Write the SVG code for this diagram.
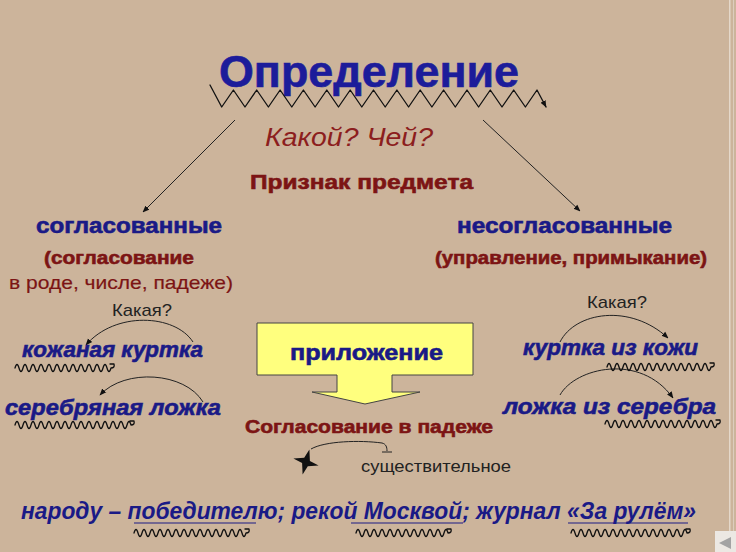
<svg xmlns="http://www.w3.org/2000/svg" width="736" height="552" viewBox="0 0 736 552">
<defs>
<style>
.t{font-family:"Liberation Sans",Arial,sans-serif}
.navy{fill:#1a1a86;stroke:#1a1a86}
.red{fill:#7c1414;stroke:#7c1414}
.b{font-weight:bold;stroke-width:0.6}
.r{stroke-width:0.2}
.i{font-style:italic}
.blk{fill:#222}
.ln{fill:none;stroke:#222;stroke-width:1}
.wv{fill:none;stroke:#111;stroke-width:1.3;stroke-linejoin:round;stroke-linecap:round}
.ul{stroke:#1a1a86;stroke-width:1.2}
</style>
<marker id="ah" viewBox="0 0 10 10" refX="9" refY="5" markerWidth="7" markerHeight="7" orient="auto" markerUnits="userSpaceOnUse">
<path d="M0,1 L10,5 L0,9 Z" fill="#111"/>
</marker>
</defs>
<rect x="0" y="0" width="736" height="552" fill="#ccb49b"/>
<rect x="729" y="0" width="1.5" height="552" fill="#e4d8ca"/>
<rect x="733" y="0" width="1" height="552" fill="#dccebe"/>

<g id="connectors">
<line class="ln" x1="235" y1="120" x2="143" y2="212" marker-end="url(#ah)"/>
<line class="ln" x1="483" y1="120" x2="580" y2="211" marker-end="url(#ah)"/>
<path class="ln" d="M193,342 C175,314 115,311 86,345" marker-end="url(#ah)"/>
<path class="ln" d="M203,402 C185,372 125,368 100,395" marker-end="url(#ah)"/>
<path class="ln" d="M560,342 C575,312 630,303 668,338" marker-end="url(#ah)"/>
<path class="ln" d="M560,395 C575,368 640,352 673,398" marker-end="url(#ah)"/>
<path class="ln" d="M311,449 C325,441 360,440 382,443 C386,444 387,447 387,451"/>
<line class="ln" x1="382" y1="452" x2="392" y2="452"/>
</g>

<g id="title">
<text class="t b" x="219" y="87" font-size="44" fill="#1c1c9a" stroke="#1c1c9a" textLength="300" lengthAdjust="spacingAndGlyphs">Определение</text>
<polyline class="wv" points="210,85 221.7,107 233.4,90 245,107 256.7,90 268.4,107 280.1,90 291.8,107 303.4,90 315.1,107 326.8,90 338.5,107 350.2,90 361.8,107 373.5,90 385.2,107 396.9,90 408.6,107 420.2,90 431.9,107 443.6,90 455.3,107 467,90 478.6,107 490.3,90 502,107 513.7,90 525.4,107 537,90 546,107" marker-end="url(#ah)"/>
</g>

<g id="question">
<text class="t i" x="265" y="146" font-size="26" fill="#8c1e1e" textLength="168" lengthAdjust="spacingAndGlyphs">Какой? Чей?</text>
</g>

<g id="priznak">
<text class="t b red" x="250" y="189" font-size="21" textLength="223" lengthAdjust="spacingAndGlyphs">Признак предмета</text>
</g>

<g id="soglas">
<text class="t b navy" x="36" y="233" font-size="22" textLength="186" lengthAdjust="spacingAndGlyphs">согласованные</text>
<text class="t b red" x="44" y="264" font-size="19" textLength="150" lengthAdjust="spacingAndGlyphs">(согласование</text>
<text class="t r red" x="9" y="289" font-size="19" textLength="224" lengthAdjust="spacingAndGlyphs">в роде, числе, падеже)</text>
</g>

<g id="nesoglas">
<text class="t b navy" x="457" y="233" font-size="22" textLength="215" lengthAdjust="spacingAndGlyphs">несогласованные</text>
<text class="t b red" x="435" y="264" font-size="19" textLength="272" lengthAdjust="spacingAndGlyphs">(управление, примыкание)</text>
</g>

<g id="left-examples">
<text class="t blk" x="112" y="316" font-size="17" textLength="60" lengthAdjust="spacingAndGlyphs">Какая?</text>
<text class="t b i navy" x="22" y="357" font-size="22" textLength="181" lengthAdjust="spacingAndGlyphs">кожаная куртка</text>
<path class="wv" d="M15,368 q2,-7 4,0 t4,0 t4,0 t4,0 t4,0 t4,0 t4,0 t4,0 t4,0 t4,0 t4,0 t4,0 t4,0 t4,0 t4,0 t4,0 t4,0 t4,0 t4,0 t4,0 t4,0 t4,0 t4,0 t4,0 q4,0 3,-4 l-4,0"/>
<text class="t b i navy" x="5" y="415" font-size="22" textLength="216" lengthAdjust="spacingAndGlyphs">серебряная ложка</text>
<path class="wv" d="M15,425 q2,-7 4,0 t4,0 t4,0 t4,0 t4,0 t4,0 t4,0 t4,0 t4,0 t4,0 t4,0 t4,0 t4,0 t4,0 t4,0 t4,0 t4,0 t4,0 t4,0 t4,0 t4,0 t4,0 t4,0 t4,0 t4,0 t4,0 t4,0 t4,0 t4,0 q4,0 3,-4 l-4,0"/>
</g>

<g id="right-examples">
<text class="t blk" x="587" y="308" font-size="17" textLength="60" lengthAdjust="spacingAndGlyphs">Какая?</text>
<text class="t b i navy" x="523" y="355" font-size="22" textLength="175" lengthAdjust="spacingAndGlyphs">куртка из кожи</text>
<path class="wv" d="M607,367 q2,-7 4,0 t4,0 t4,0 t4,0 t4,0 t4,0 t4,0 t4,0 t4,0 t4,0 t4,0 t4,0 t4,0 t4,0 t4,0 t4,0 t4,0 t4,0 t4,0 t4,0 t4,0 t4,0 t4,0 t4,0 t4,0 t4,0 q4,0 3,-4 l-4,0"/>
<text class="t b i navy" x="503" y="414" font-size="22" textLength="213" lengthAdjust="spacingAndGlyphs">ложка из серебра</text>
<path class="wv" d="M605,424 q2,-7 4,0 t4,0 t4,0 t4,0 t4,0 t4,0 t4,0 t4,0 t4,0 t4,0 t4,0 t4,0 t4,0 t4,0 t4,0 t4,0 t4,0 t4,0 t4,0 t4,0 t4,0 t4,0 t4,0 t4,0 t4,0 t4,0 t4,0 t4,0 q4,0 3,-4 l-4,0"/>
</g>

<g id="prilozhenie">
<path d="M257,323 H473 V375 H392 V392 H420 L365,404 L312,392 H337 V375 H257 Z" fill="#ffff7e" stroke="#444" stroke-width="1"/>
<text class="t b navy" x="290" y="360" font-size="22" textLength="153" lengthAdjust="spacingAndGlyphs">приложение</text>
</g>

<g id="padezh">
<text class="t b red" x="245" y="433" font-size="19" textLength="248" lengthAdjust="spacingAndGlyphs">Согласование в падеже</text>
</g>

<g id="star">
<polygon points="309.4,449.4 309.9,460.9 318.6,465.4 307.8,466.2 302.6,474.6 302.1,463.1 293.4,458.6 304.2,457.8" fill="#111"/>
</g>

<g id="noun">
<text class="t blk" x="361" y="472" font-size="17" textLength="150" lengthAdjust="spacingAndGlyphs">существительное</text>
</g>

<g id="examples-bottom">
<text x="21" y="519" font-family="Liberation Sans, Arial, sans-serif" font-weight="bold" font-style="italic" font-size="24" fill="#1a1a86" textLength="675" lengthAdjust="spacingAndGlyphs">народу – победителю; рекой Москвой; журнал «За рулём»</text>
<line class="ul" x1="134" y1="523" x2="256" y2="523"/>
<line class="ul" x1="351" y1="523" x2="463" y2="523"/>
<line class="ul" x1="568" y1="523" x2="688" y2="523"/>
<path class="wv" d="M134,533 q2,-7 4,0 t4,0 t4,0 t4,0 t4,0 t4,0 t4,0 t4,0 t4,0 t4,0 t4,0 t4,0 t4,0 t4,0 t4,0 t4,0 t4,0 t4,0 t4,0 t4,0 t4,0 t4,0 t4,0 t4,0 t4,0 t4,0 t4,0 t4,0 q4,0 3,-4 l-4,0"/>
<path class="wv" d="M356,533 q2,-7 4,0 t4,0 t4,0 t4,0 t4,0 t4,0 t4,0 t4,0 t4,0 t4,0 t4,0 t4,0 t4,0 t4,0 t4,0 t4,0 t4,0 t4,0 t4,0 t4,0 t4,0 t4,0 t4,0 q4,0 3,-4 l-4,0"/>
<path class="wv" d="M571,533 q2,-7 4,0 t4,0 t4,0 t4,0 t4,0 t4,0 t4,0 t4,0 t4,0 t4,0 t4,0 t4,0 t4,0 t4,0 t4,0 t4,0 t4,0 t4,0 t4,0 t4,0 t4,0 t4,0 t4,0 t4,0 t4,0 t4,0 t4,0 t4,0 t4,0 q4,0 3,-4 l-4,0"/>
</g>

<g id="nav-button">
<rect x="715" y="531" width="21" height="21" fill="#ece8e3"/>
<polygon points="719,543 731,537 731,549" fill="#a3a3a3"/>
</g>
</svg>
